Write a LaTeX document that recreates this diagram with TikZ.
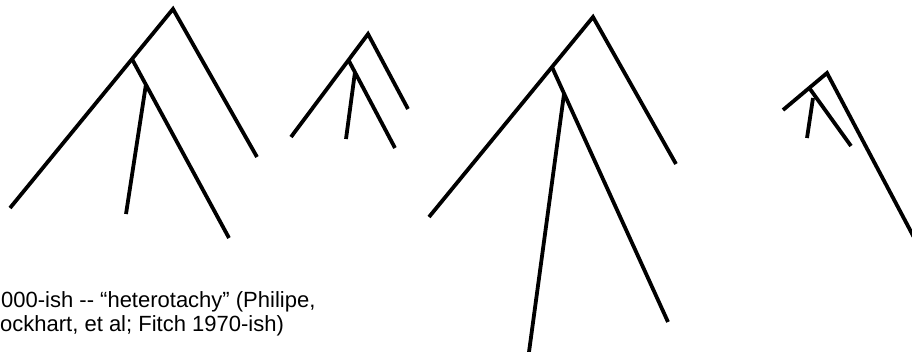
\documentclass[tikz,border=0pt]{standalone}
\usepackage{fontspec}
\setmainfont{Liberation Sans}
\begin{document}
\begin{tikzpicture}[x=1pt,y=-1pt,
  branch/.style={line width=3.8pt,line cap=butt,line join=miter,black},
  caption/.style={anchor=base west,inner sep=0pt,font=\fontsize{22}{24}\selectfont}]
\useasboundingbox (0,0) rectangle (912,351);
\clip (0,0) rectangle (912,351);
% tree 1
\coordinate (t1r) at (173,9);
\coordinate (t1a) at (132,59);
\coordinate (t1b) at (146,84);
\coordinate (t1l) at (10,208);
\coordinate (t1x) at (257,157);
\coordinate (t1y) at (229,238);
\coordinate (t1z) at (126,214);
\draw[branch] (t1l) -- (t1r) -- (t1x);
\draw[branch] (t1a) -- (t1y);
\draw[branch] (t1b) -- (t1z);
% tree 2
\coordinate (t2r) at (368,34);
\coordinate (t2a) at (349,61);
\coordinate (t2b) at (355,72);
\coordinate (t2l) at (291,137);
\coordinate (t2x) at (408,109);
\coordinate (t2y) at (395,148);
\coordinate (t2z) at (346,139);
\draw[branch] (t2l) -- (t2r) -- (t2x);
\draw[branch] (t2a) -- (t2y);
\draw[branch] (t2b) -- (t2z);
% tree 3
\coordinate (t3r) at (593,17);
\coordinate (t3a) at (552,67);
\coordinate (t3b) at (564,94);
\coordinate (t3l) at (429,217);
\coordinate (t3x) at (676,164);
\coordinate (t3y) at (668,322);
\coordinate (t3z) at (529,352);
\draw[branch] (t3l) -- (t3r) -- (t3x);
\draw[branch] (t3a) -- (t3y);
\draw[branch] (t3b) -- (t3z);
% tree 4
\coordinate (t4r) at (827,73);
\coordinate (t4a) at (810,89);
\coordinate (t4b) at (813,98);
\coordinate (t4l) at (783,110);
\coordinate (t4x) at (918,245);
\coordinate (t4y) at (851,146);
\coordinate (t4z) at (807,138);
\draw[branch] (t4l) -- (t4r) -- (t4x);
\draw[branch] (t4a) -- (t4y);
\draw[branch] (t4b) -- (t4z);
% caption
\node[caption] (cap1) at (1,307) {000-ish -{}- “heterotachy” (Philipe,};
\node[caption] (cap2) at (0,331) {ockhart, et al; Fitch 1970-ish)};
\end{tikzpicture}
\end{document}
